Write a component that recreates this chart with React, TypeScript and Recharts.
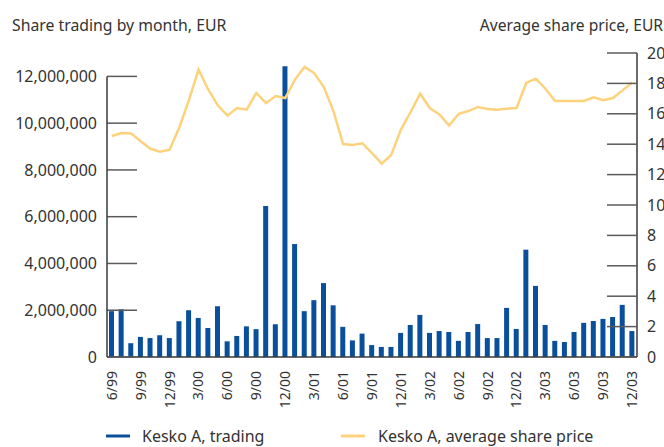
import React from 'react';
import { ComposedChart, Bar, Line, XAxis, YAxis, Legend } from 'recharts';

const months = [
  '6/99', '7/99', '8/99', '9/99', '10/99', '11/99', '12/99',
  '1/00', '2/00', '3/00', '4/00', '5/00', '6/00', '7/00', '8/00', '9/00', '10/00', '11/00', '12/00',
  '1/01', '2/01', '3/01', '4/01', '5/01', '6/01', '7/01', '8/01', '9/01', '10/01', '11/01', '12/01',
  '1/02', '2/02', '3/02', '4/02', '5/02', '6/02', '7/02', '8/02', '9/02', '10/02', '11/02', '12/02',
  '1/03', '2/03', '3/03', '4/03', '5/03', '6/03', '7/03', '8/03', '9/03', '10/03', '11/03', '12/03',
];

const trading = [
  1960000, 2040000, 590000, 860000, 810000, 930000, 810000,
  1530000, 2000000, 1670000, 1240000, 2170000, 670000, 900000, 1310000, 1190000, 6460000, 1400000, 12430000,
  4830000, 1960000, 2430000, 3160000, 2210000, 1290000, 710000, 1000000, 510000, 430000, 430000, 1030000,
  1370000, 1800000, 1030000, 1110000, 1070000, 690000, 1070000, 1410000, 810000, 810000, 2100000, 1200000,
  4590000, 3040000, 1370000, 690000, 640000, 1070000, 1460000, 1540000, 1630000, 1710000, 2230000, 1110000,
];

const price = [
  14.54, 14.74, 14.71, 14.2, 13.7, 13.5, 13.64,
  15.1, 16.9, 18.9, 17.6, 16.56, 15.88, 16.38, 16.27, 17.37, 16.7, 17.17, 17.04,
  18.25, 19.08, 18.68, 17.76, 16.18, 14.01, 13.95, 14.06, 13.42, 12.72, 13.3, 14.96,
  16.1, 17.32, 16.38, 15.96, 15.22, 16.0, 16.18, 16.45, 16.32, 16.27, 16.34, 16.38,
  18.03, 18.31, 17.65, 16.84, 16.84, 16.84, 16.84, 17.08, 16.89, 17.04, 17.54, 18.05,
];

const leftTicks = [0, 2000000, 4000000, 6000000, 8000000, 10000000, 12000000];
const rightTicks = [0, 2, 4, 6, 8, 10, 12, 14, 16, 18, 20];

const data = months.map((m, i) => ({ month: m, trading: trading[i], price: price[i] }));

const FONT = '"Noto Sans", sans-serif';
const TEXT = '#333333';
const AXIS = '#3a3a3a';
const TICK = '#5a5a5a';
const BLUE = '#0a4f9c';
const YELLOW = '#fdd27d';

const W = 664;
const H = 447;
const MARGIN = { top: 53, right: 0, bottom: 40, left: 0 };
const X_AXIS_H = 50;
const PLOT_BOTTOM = H - MARGIN.bottom - X_AXIS_H;

const fmt = (v: number) => v.toLocaleString('en-US');

const LeftTick = (props: any) => {
  const { x, y, payload } = props;
  const axisX = x + 10;
  return (
    <g>
      <line x1={axisX} x2={axisX + 30} y1={y} y2={y} stroke={TICK} strokeWidth={1.5} />
      {payload.value === 12000000 && (
        <line x1={axisX} x2={axisX} y1={y} y2={PLOT_BOTTOM} stroke={AXIS} strokeWidth={1.5} />
      )}
      <text x={x} y={y} dy="0.35em" textAnchor="end" fontFamily={FONT} fontSize={16} fill={TEXT}>
        {fmt(payload.value)}
      </text>
    </g>
  );
};

const RightTick = (props: any) => {
  const { x, y, payload } = props;
  const axisX = x - 10;
  return (
    <g>
      <line x1={axisX - 30} x2={axisX} y1={y} y2={y} stroke={TICK} strokeWidth={1.5} />
      <text x={x} y={y} dy="0.35em" textAnchor="start" fontFamily={FONT} fontSize={16} fill={TEXT}>
        {payload.value}
      </text>
    </g>
  );
};

const XTick = (props: any) => {
  const { x, y, payload } = props;
  return (
    <text
      transform={`translate(${x},${y + 14}) rotate(-90)`}
      dy="0.35em"
      textAnchor="end"
      fontFamily={FONT}
      fontSize={14}
      fill={TEXT}
    >
      {payload.value}
    </text>
  );
};

const LeftTitle = () => (
  <text x={12} y={31} fontFamily={FONT} fontSize={15.8} fill={TEXT}>
    Share trading by month, EUR
  </text>
);

const RightTitle = () => (
  <text x={663} y={31} textAnchor="end" fontFamily={FONT} fontSize={15.6} fill={TEXT}>
    Average share price, EUR
  </text>
);

const LegendContent = () => (
  <svg width={W} height={22} style={{ display: 'block', overflow: 'visible' }}>
    <line x1={106} x2={130} y1={11} y2={11} stroke={BLUE} strokeWidth={3} />
    <text x={142} y={17} fontFamily={FONT} fontSize={16} fill={TEXT}>
      Kesko A, trading
    </text>
    <line x1={341} x2={365} y1={11} y2={11} stroke={YELLOW} strokeWidth={3} />
    <text x={378} y={17} fontFamily={FONT} fontSize={16} fill={TEXT}>
      Kesko A, average share price
    </text>
  </svg>
);

export default function App() {
  return (
    <div style={{ position: 'absolute', left: 0, top: 0, width: W, height: H, background: '#fff' }}>
      <ComposedChart width={W} height={H} data={data} margin={MARGIN}>
        <XAxis
          dataKey="month"
          interval={2}
          height={X_AXIS_H}
          tickSize={0}
          tickMargin={0}
          tickLine={false}
          axisLine={{ stroke: AXIS, strokeWidth: 1.5 }}
          tick={<XTick />}
        />
        <YAxis
          yAxisId="left"
          orientation="left"
          width={107}
          domain={[0, 13000000]}
          ticks={leftTicks}
          interval={0}
          tickSize={0}
          tickMargin={10}
          tickLine={false}
          axisLine={false}
          tick={<LeftTick />}
          label={<LeftTitle />}
        />
        <YAxis
          yAxisId="right"
          orientation="right"
          width={27}
          domain={[0, 20]}
          ticks={rightTicks}
          interval={0}
          tickSize={0}
          tickMargin={10}
          tickLine={false}
          axisLine={{ stroke: AXIS, strokeWidth: 1.5 }}
          tick={<RightTick />}
          label={<RightTitle />}
        />
        <Bar yAxisId="left" dataKey="trading" fill={BLUE} barSize={5} isAnimationActive={false} />
        <Line
          yAxisId="right"
          dataKey="price"
          type="linear"
          stroke={YELLOW}
          strokeWidth={2.5}
          dot={false}
          activeDot={false}
          isAnimationActive={false}
        />
        <Legend
          layout="horizontal"
          verticalAlign="middle"
          align="center"
          wrapperStyle={{ position: 'absolute', left: 0, top: 425, width: W, height: 22 }}
          content={<LegendContent />}
        />
      </ComposedChart>
    </div>
  );
}
